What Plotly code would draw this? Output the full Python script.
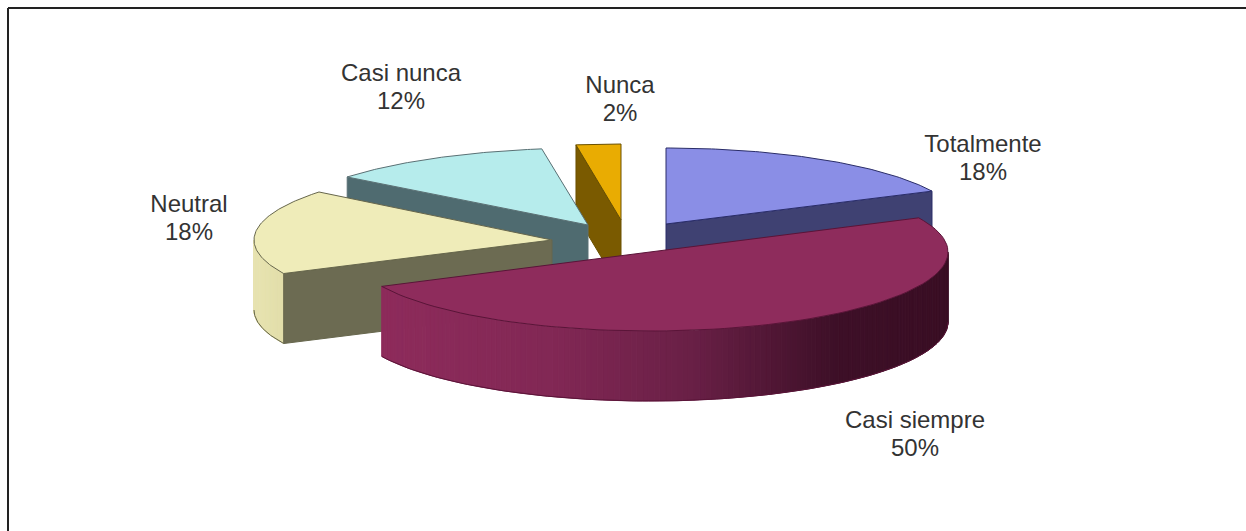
import math
import plotly.graph_objects as go

categories = ["Totalmente", "Casi siempre", "Neutral", "Casi nunca", "Nunca"]
values = [17.9, 50.0, 17.9, 11.9, 2.4]
percent_labels = ["18%", "50%", "18%", "12%", "2%"]

# Layout / style (page pixels)
apex = {"Totalmente": (666, 224), "Casi siempre": (650, 252), "Neutral": (552, 240),
        "Casi nunca": (588, 225), "Nunca": (621, 220)}
radii = {"Totalmente": (295, 76), "Casi siempre": (298, 79), "Neutral": (298, 77),
         "Casi nunca": (308, 77), "Nunca": (300, 76)}
top_col = {"Totalmente": "#8A8EE6", "Casi siempre": "#8E2C5C", "Neutral": "#EFECB9",
           "Casi nunca": "#B6ECEC", "Nunca": "#E9AC02"}
cut_col = {"Totalmente": "#3F4172", "Casi siempre": "#6E1F48", "Neutral": "#6C6B52",
           "Casi nunca": "#4F6B70", "Nunca": "#7A5A00"}
edge_col = {"Totalmente": "#2A2D68", "Casi siempre": "#5A1438", "Neutral": "#66664C",
            "Casi nunca": "#5A7074", "Nunca": "#6A5000"}
label_x = {"Totalmente": 983, "Casi siempre": 915, "Neutral": 189, "Casi nunca": 401, "Nunca": 620}
label_y = {"Totalmente": (146, 174), "Casi siempre": (422, 450), "Neutral": (206, 234),
           "Casi nunca": (75, 103), "Nunca": (87, 115)}
DEPTH = 70
draw_order = ["Nunca", "Casi nunca", "Totalmente", "Neutral", "Casi siempre"]

# Slice angles, clockwise from 12 o'clock
total = sum(values)
angles = {}
running = 0.0
for c, v in zip(categories, values):
    angles[c] = (running / total * 360, (running + v) / total * 360)
    running += v


def rim(c, deg):
    cx, cy = apex[c]
    rx, ry = radii[c]
    a = math.radians(deg)
    return cx + rx * math.sin(a), cy - ry * math.cos(a)


def arc(c, a0, a1, n=80):
    return [rim(c, a0 + (a1 - a0) * i / n) for i in range(n + 1)]


def poly(fig, pts, fill, line=None, width=1):
    xs = [p[0] for p in pts] + [pts[0][0]]
    ys = [p[1] for p in pts] + [pts[0][1]]
    fig.add_trace(go.Scatter(x=xs, y=ys, mode="lines", fill="toself", fillcolor=fill,
                             line=dict(color=line or fill, width=width),
                             hoverinfo="skip", showlegend=False))


def lerp(stops, t):
    for (t0, c0), (t1, c1) in zip(stops, stops[1:]):
        if t <= t1:
            f = (t - t0) / (t1 - t0)
            return "rgb(%d,%d,%d)" % tuple(c0[i] + (c1[i] - c0[i]) * f for i in range(3))
    return "rgb(%d,%d,%d)" % stops[-1][1]


wall_stops = {
    "Casi siempre": [(0.0, (142, 44, 92)), (0.3, (130, 40, 85)), (0.55, (105, 32, 70)),
                     (0.8, (62, 16, 40)), (1.0, (58, 14, 36))],
    "Neutral": [(0.0, (232, 228, 178)), (1.0, (226, 222, 170))],
}

fig = go.Figure()
for c in draw_order:
    a0, a1 = angles[c]
    ax, ay = apex[c]
    edge = edge_col[c]
    # outer wall, front-facing part only (90..270 degrees)
    w0, w1 = max(a0, 90), min(a1, 270)
    if w0 < w1 and c in wall_stops:
        n = 140
        pts = arc(c, w0, w1, n)
        xmin, xmax = min(p[0] for p in pts), max(p[0] for p in pts)
        for i in range(n):
            p, q = pts[i], pts[i + 1]
            t = ((p[0] + q[0]) / 2 - xmin) / (xmax - xmin)
            col = lerp(wall_stops[c], t)
            poly(fig, [p, q, (q[0], q[1] + DEPTH), (p[0], p[1] + DEPTH)], col, col, 1)
        low = [(x, y + DEPTH) for x, y in pts]
        fig.add_trace(go.Scatter(x=[p[0] for p in low], y=[p[1] for p in low], mode="lines",
                                 line=dict(color=edge, width=1), hoverinfo="skip", showlegend=False))
    # cut faces that look towards the viewer
    for ang in (a1, a0):
        if c == "Casi siempre":
            continue
        rx_, ry_ = rim(c, ang)
        faces_front = (c == "Totalmente" and ang == a1) or (c == "Neutral" and ang == a0) or \
                      (c == "Casi nunca" and ang == a0) or (c == "Nunca" and ang == a0)
        if faces_front:
            poly(fig, [(ax, ay), (rx_, ry_), (rx_, ry_ + DEPTH), (ax, ay + DEPTH)],
                 cut_col[c], edge, 1)
    # top face
    top = [(ax, ay)] + arc(c, a0, a1)
    poly(fig, top, top_col[c], edge, 1)

# Labels: name and percentage as two text lines
for c, p in zip(categories, percent_labels):
    y0, y1 = label_y[c]
    fig.add_trace(go.Scatter(x=[label_x[c], label_x[c]], y=[y0, y1], mode="text", text=[c, p],
                             textposition="middle center",
                             textfont=dict(family="Liberation Sans, Arial, sans-serif", size=24, color="#333333"),
                             hoverinfo="skip", showlegend=False))

# Frame: only top and left edges are visible
fig.add_shape(type="line", x0=8, x1=1246, y0=8, y1=8, line=dict(color="#222222", width=2))
fig.add_shape(type="line", x0=8, x1=8, y0=8, y1=531, line=dict(color="#222222", width=2))

fig.update_layout(width=1246, height=531, margin=dict(l=0, r=0, t=0, b=0),
                  paper_bgcolor="white", plot_bgcolor="white", showlegend=False,
                  xaxis=dict(range=[0, 1246], visible=False, fixedrange=True),
                  yaxis=dict(range=[531, 0], visible=False, fixedrange=True))
fig.write_html("out.html", config={"displayModeBar": False},
               post_script="document.body.style.margin='0';document.body.style.overflow='hidden';")
